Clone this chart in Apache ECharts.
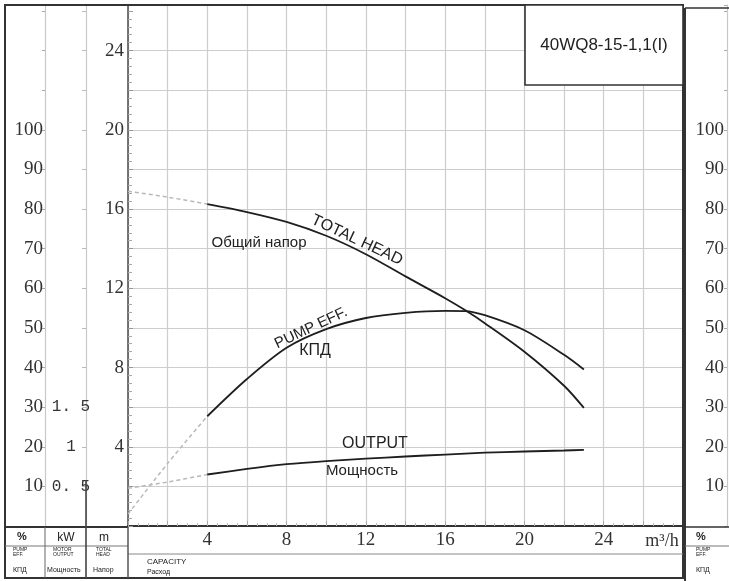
<!DOCTYPE html>
<html><head><meta charset="utf-8">
<script src="https://cdn.jsdelivr.net/npm/echarts@6/dist/echarts.min.js"></script>
<style>html,body{margin:0;padding:0;background:#fff}#c{width:729px;height:581px}</style>
</head><body><div id="c"></div>
<script>
// ---- data ----
const flowQ = [4, 6, 8, 10, 12, 14, 16, 17, 18, 20, 22, 23];            // m3/h
const headM = [16.25, 15.85, 15.35, 14.65, 13.72, 12.6, 11.5, 10.9, 10.24, 8.8, 7.08, 5.96];
const effPct = [27.7, 37.1, 45.0, 49.7, 52.5, 53.8, 54.3, 54.25, 53.2, 49.4, 43.2, 39.5];
const powerKW = [0.65, 0.72, 0.78, 0.82, 0.85, 0.877, 0.902, 0.914, 0.925, 0.94, 0.953, 0.96];
const flowExt = [0, 2, 4];
const headExt = [16.9, 16.6, 16.25];
const effExt = [3, 15.8, 27.7];
const powerExt = [0.475, 0.555, 0.65];
const xTickLabels = [4, 8, 12, 16, 20, 24];
const headTickLabels = [4, 8, 12, 16, 20, 24];
const pctTickLabels = [10, 20, 30, 40, 50, 60, 70, 80, 90, 100];
const kwTickValues = [0.5, 1, 1.5];
const kwTickTexts = ['0. 5', '1', '1. 5'];
const modelName = '40WQ8-15-1,1(I)';

const pairs = (xs, ys) => xs.map((x, i) => [x, ys[i]]);
const near = (arr, v) => arr.find(a => Math.abs(a - v) < 1e-6);

const SERIF = '"Liberation Serif", "DejaVu Serif", serif';
const SANS = '"Liberation Sans", Arial, sans-serif';
const GRID = '#cdcdcd';
const DARK = '#333';

const HMAX = 26.3;
const splitColors = [];
for (let i = 0; i < 15; i++) splitColors.push(i === 13 ? 'rgba(0,0,0,0)' : GRID);

const chart = echarts.init(document.getElementById('c'), null, {renderer: 'canvas'});

function solid(name, yi, xs, ys) {
  return {name, type: 'line', yAxisIndex: yi, data: pairs(xs, ys), smooth: 0.3, symbol: 'none',
    lineStyle: {color: '#1e1e1e', width: 1.8}, z: 5, silent: true};
}
function dashed(name, yi, xs, ys) {
  return {name, type: 'line', yAxisIndex: yi, data: pairs(xs, ys), smooth: 0.3, symbol: 'none',
    lineStyle: {color: '#b8b8b8', width: 1.5, type: [4, 3]}, z: 4, silent: true};
}
function txt(text, x, y, font, opts) {
  return Object.assign({type: 'text', x, y, z: 20, silent: true,
    style: Object.assign({text, font, fill: '#222', align: 'center', verticalAlign: 'middle'}, opts && opts.style || {})},
    opts && opts.el || {});
}
function ln(x1, y1, x2, y2, c, w) {
  return {type: 'line', z: 15, silent: true, shape: {x1, y1, x2, y2}, style: {stroke: c, lineWidth: w}};
}

const option = {
  animation: false,
  backgroundColor: '#fff',
  grid: {left: 128, right: 46, top: 5, bottom: 55, containLabel: false},
  xAxis: {
    type: 'value', min: 0, max: 28, interval: 2,
    axisLine: {show: true, lineStyle: {color: DARK, width: 2}},
    axisTick: {show: true, inside: true, length: 5, lineStyle: {color: '#aaa'}},
    minorTick: {show: true, splitNumber: 4, length: 3, lineStyle: {color: '#bbb'}},
    axisLabel: {margin: 5, color: DARK, fontFamily: SERIF, fontSize: 19,
      formatter: v => near(xTickLabels, v) !== undefined ? String(v) : ''},
    splitLine: {show: true, lineStyle: {color: GRID, width: 1.2}}
  },
  yAxis: [
    { // head, m
      type: 'value', min: 0, max: HMAX, interval: 2, position: 'left',
      axisLine: {show: true, lineStyle: {color: '#555', width: 1.6}},
      axisTick: {show: true, inside: true, length: 5, lineStyle: {color: '#999'}},
      minorTick: {show: true, splitNumber: 5, length: 4, lineStyle: {color: '#aaa'}},
      axisLabel: {margin: 4, color: DARK, fontFamily: SERIF, fontSize: 19,
        formatter: v => near(headTickLabels, v) !== undefined ? String(v) : ''},
      splitLine: {show: true, lineStyle: {color: splitColors, width: 1.2}}
    },
    { // efficiency, %
      type: 'value', min: 0, max: HMAX * 5, interval: 10, position: 'left', offset: 83,
      axisLine: {show: true, lineStyle: {color: '#c8c8c8', width: 1.2}},
      axisTick: {show: true, length: 3, lineStyle: {color: '#aaa'}},
      axisLabel: {margin: 2, color: DARK, fontFamily: SERIF, fontSize: 19,
        formatter: v => near(pctTickLabels, v) !== undefined ? String(v) : ''},
      splitLine: {show: false}
    },
    { // power, kW
      type: 'value', min: 0, max: HMAX / 4, interval: 0.5, position: 'left', offset: 42,
      axisLine: {show: true, lineStyle: {color: '#c8c8c8', width: 1.2}},
      axisTick: {show: true, length: 4, inside: false, lineStyle: {color: '#bbb'}},
      axisLabel: {margin: 15, align: 'center', color: DARK, fontFamily: '"Liberation Mono", "DejaVu Sans Mono", monospace', fontSize: 16,
        formatter: v => { const i = kwTickValues.findIndex(a => Math.abs(a - v) < 1e-6); return i >= 0 ? kwTickTexts[i] : ''; }},
      splitLine: {show: false}
    },
    { // efficiency, % (right duplicate)
      type: 'value', min: 0, max: HMAX * 5, interval: 10, position: 'right', offset: 44,
      axisLine: {show: true, lineStyle: {color: '#c8c8c8', width: 1.2}},
      axisTick: {show: true, inside: true, length: 3, lineStyle: {color: '#aaa'}},
      axisLabel: {inside: true, margin: 3, color: DARK, fontFamily: SERIF, fontSize: 19,
        formatter: v => near(pctTickLabels, v) !== undefined ? String(v) : ''},
      splitLine: {show: false}
    }
  ],
  series: [
    dashed('head-ext', 0, flowExt, headExt),
    dashed('eff-ext', 1, flowExt, effExt),
    dashed('power-ext', 2, flowExt, powerExt),
    solid('TOTAL HEAD', 0, flowQ, headM),
    solid('PUMP EFF.', 1, flowQ, effPct),
    solid('OUTPUT', 2, flowQ, powerKW)
  ],
  graphic: [
    // outer frame
    {type: 'rect', z: 14, silent: true, shape: {x: 5, y: 5, width: 678, height: 573},
      style: {fill: 'none', stroke: DARK, lineWidth: 2}},
    // title box
    {type: 'rect', z: 16, silent: true, shape: {x: 525, y: 5, width: 158, height: 80},
      style: {fill: '#fff', stroke: DARK, lineWidth: 1.6}},
    txt(modelName, 604, 45, '17px ' + SANS, {style: {fill: '#222'}}),
    // right panel frame
    ln(685, 8, 685, 581, DARK, 2),
    ln(685, 8, 729, 8, DARK, 1.5),
    ln(685, 527, 729, 527, DARK, 1.5),
    ln(685, 546, 729, 546, '#777', 1),
    // left legend area
    ln(5, 527, 128, 527, DARK, 2),
    ln(5, 546, 128, 546, '#777', 1),
    ln(128, 554, 683, 554, '#888', 1),
    ln(45, 527, 45, 578, '#666', 1),
    ln(86, 480, 86, 578, '#444', 1.6),
    ln(128, 527, 128, 578, '#555', 1.5),
    // axis units & legend texts
    txt('m\u00b3/h', 662, 541, '18px ' + SERIF, {style: {fill: DARK}}),
    txt('%', 22, 537, 'bold 11px ' + SANS),
    txt('kW', 66, 538, '12px ' + SANS),
    txt('m', 104, 538, '12px ' + SANS),
    txt('PUMP\nEFF.', 13, 552, '5px ' + SANS, {style: {align: 'left', lineHeight: 5}}),
    txt('MOTOR\nOUTPUT', 53, 552, '5px ' + SANS, {style: {align: 'left', lineHeight: 5}}),
    txt('TOTAL\nHEAD', 96, 552, '5px ' + SANS, {style: {align: 'left', lineHeight: 5}}),
    txt('КПД', 13, 570, '7px ' + SANS, {style: {align: 'left'}}),
    txt('Мощность', 47, 570, '7px ' + SANS, {style: {align: 'left'}}),
    txt('Напор', 93, 570, '7px ' + SANS, {style: {align: 'left'}}),
    txt('CAPACITY', 147, 562, '8px ' + SANS, {style: {align: 'left'}}),
    txt('Расход', 147, 572, '7px ' + SANS, {style: {align: 'left'}}),
    txt('%', 701, 537, 'bold 11px ' + SANS),
    txt('PUMP\nEFF.', 696, 552, '5px ' + SANS, {style: {align: 'left', lineHeight: 5}}),
    txt('КПД', 696, 570, '7px ' + SANS, {style: {align: 'left'}}),
    // curve annotations
    txt('TOTAL HEAD', 357, 240, '16px ' + SANS, {el: {rotation: -0.44}}),
    txt('Общий напор', 259, 243, '15px ' + SANS),
    txt('PUMP EFF.', 311, 328, '15px ' + SANS, {el: {rotation: 0.44}}),
    txt('КПД', 315, 351, '16px ' + SANS),
    txt('OUTPUT', 375, 444, '16px ' + SANS),
    txt('Мощность', 362, 471, '15px ' + SANS)
  ]
};
chart.setOption(option);
</script>
</body></html>
